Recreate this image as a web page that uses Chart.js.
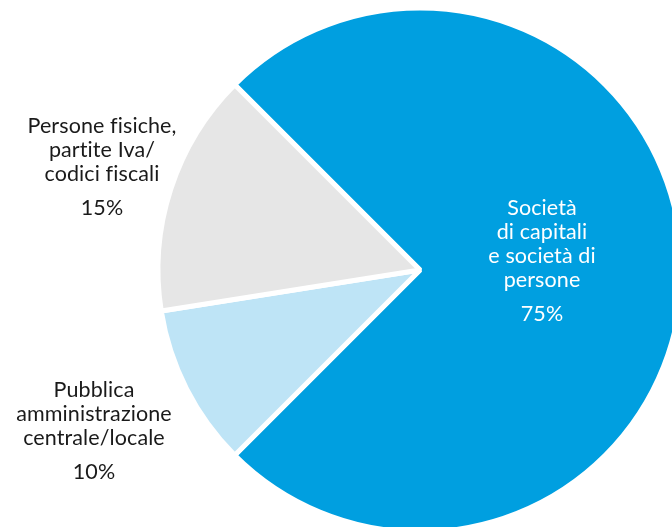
<!DOCTYPE html>
<html lang="it">
<head>
<meta charset="utf-8">
<title>Clienti per tipologia</title>
<script src="https://cdn.jsdelivr.net/npm/chart.js@4.4.1/dist/chart.umd.min.js"></script>
<style>
    html, body {
        margin: 0;
        padding: 0;
        width: 672px;
        height: 527px;
        overflow: hidden;
        background: #ffffff;
    }
    #wrap {
        position: absolute;
        left: 0;
        top: 0;
        width: 900px;
        height: 560px;
    }
</style>
</head>
<body>
<div id="wrap"><canvas id="clientiChart"></canvas></div>
<script>
// quote per tipologia di cliente (%)
const categorie = [
    ['Società', 'di capitali', 'e società di', 'persone'],
    ['Pubblica', 'amministrazione', 'centrale/locale'],
    ['Persone fisiche,', 'partite Iva/', 'codici fiscali']
];
const quote = [75, 10, 15];
const colori = ['#009fe0', '#bee4f6', '#e6e6e6'];
const coloriTesto = ['#ffffff', '#1a1a1a', '#1a1a1a'];

// dove scrivere ogni etichetta, rispetto al centro della torta
const posEtichette = [
    { dx: 122, dy: -55 },
    { dx: -326, dy: 127 },
    { dx: -318, dy: -137 }
];

const etichettePlugin = {
    id: 'etichette',
    afterDraw(chart) {
        const ctx = chart.ctx;
        const arcs = chart.getDatasetMeta(0).data;
        ctx.save();
        ctx.font = '21.5px Lato, "DejaVu Sans", sans-serif';
        ctx.letterSpacing = '0.1px'; // niente legature "fi"
        ctx.textAlign = 'center';
        ctx.textBaseline = 'alphabetic';
        arcs.forEach((arc, i) => {
            const x = arc.x + posEtichette[i].dx;
            let y = arc.y + posEtichette[i].dy;
            ctx.fillStyle = coloriTesto[i];
            categorie[i].forEach((riga, j) => {
                ctx.fillText(riga, x, y + j * 24);
            });
            y += (categorie[i].length - 1) * 24 + 34;
            ctx.fillText(quote[i] + '%', x, y);
        });
        ctx.restore();
    }
};

const ctx = document.getElementById('clientiChart').getContext('2d');
new Chart(ctx, {
    type: 'pie',
    data: {
        labels: categorie.map(c => c.join(' ')),
        datasets: [{
            data: quote,
            backgroundColor: colori,
            borderColor: '#ffffff',
            borderWidth: 5,
            borderJoinStyle: 'bevel'
        }]
    },
    options: {
        responsive: true,
        maintainAspectRatio: false,
        animation: false,
        rotation: -45,
        radius: 262,
        layout: {
            padding: { left: 0, right: 60, top: 0, bottom: 20 }
        },
        plugins: {
            legend: { display: false },
            tooltip: { enabled: false }
        }
    },
    plugins: [etichettePlugin]
});
</script>
</body>
</html>
